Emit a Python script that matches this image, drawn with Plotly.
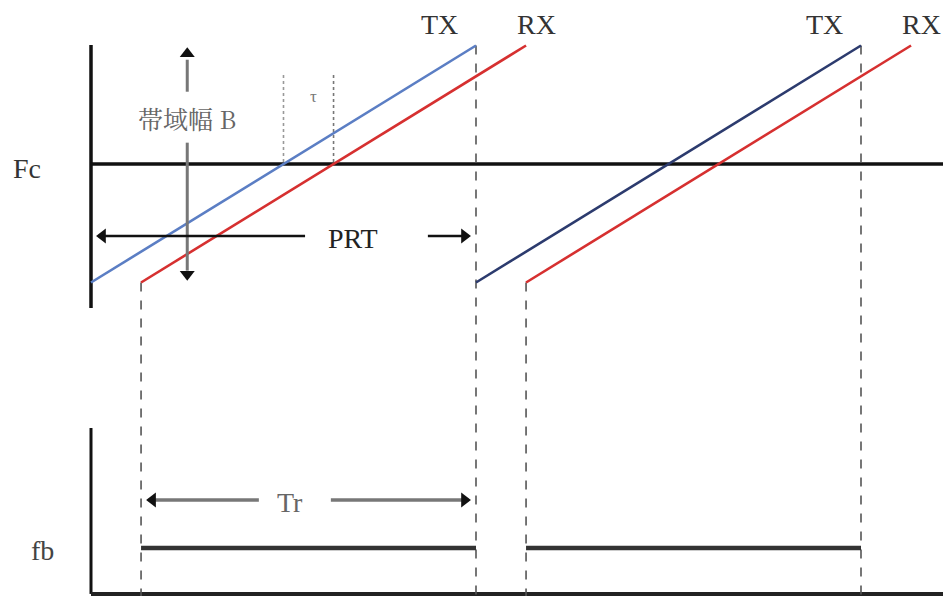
import plotly.graph_objects as go

# ---- data (diagram units: time in PRT units, frequency in bandwidth units around Fc) ----
tx_starts = [0.0, 1.0]          # chirp start times
chirp_length = 1.0              # PRT
tau = 0.13                      # round-trip delay
f_low, f_high = -0.5, 0.5       # Fc - B/2 .. Fc + B/2
tx_colors = ["#5b7ec4", "#2c3b6e"]
rx_color = "#d63030"
labels_tx = ["TX", "TX"]
labels_rx = ["RX", "RX"]
fb_level = -1.62

X0, X1 = -91 / 385, 852 / 385
Y0, Y1 = -432 / 237, 164 / 237
BOT = -1.814

fig = go.Figure()

def line(xs, ys, color, width, dash=None):
    fig.add_trace(go.Scatter(x=xs, y=ys, mode="lines",
                             line=dict(color=color, width=width, dash=dash),
                             hoverinfo="skip", showlegend=False))

# axes
line([0, 0], [0.502, -0.608], "#111", 3.5)
line([0, X1 + 0.1], [0, 0], "#111", 3.5)
line([0, 0], [-1.114, BOT], "#111", 3)
line([0, X1 + 0.1], [BOT, BOT], "#222", 4)

# dashed vertical guides
for i, s in enumerate(tx_starts):
    e = s + chirp_length
    line([e, e], [f_high, Y0], "#555", 1.6, "dash")
    line([s + tau, s + tau], [f_low, Y0], "#555", 1.6, "dash")

# tau dotted lines
t_mid = tx_starts[0] + chirp_length / 2
line([t_mid, t_mid], [0.376, 0], "#999", 1.6, "dot")
line([t_mid + tau, t_mid + tau], [0.376, 0], "#777", 1.6, "dot")

# chirps
for i, s in enumerate(tx_starts):
    line([s, s + chirp_length], [f_low, f_high], tx_colors[i], 2.6)
    line([s + tau, s + tau + chirp_length], [f_low, f_high], rx_color, 2.6)

# beat frequency segments
for s in tx_starts:
    line([s + tau, s + chirp_length], [fb_level, fb_level], "#333", 4.5)

# arrows (shafts)
tb = 0.25
line([tb, tb], [f_high - 0.06, 0.305], "#777", 3)
line([tb, tb], [0.09, f_low + 0.05], "#777", 3)
prt_y = -0.304
line([0.02, 0.556], [prt_y, prt_y], "#111", 2.5)
line([0.875, chirp_length - 0.02], [prt_y, prt_y], "#111", 2.5)
tr_y = -1.418
line([tau + 0.02, 0.436], [tr_y, tr_y], "#777", 3.5)
line([0.623, chirp_length - 0.02], [tr_y, tr_y], "#777", 3.5)

# arrowheads
heads = [
    (tb, f_high - 0.035, "triangle-up"),
    (tb, f_low + 0.035, "triangle-down"),
    (0.03, prt_y, "triangle-left"),
    (chirp_length - 0.03, prt_y, "triangle-right"),
    (tau + 0.03, tr_y, "triangle-left"),
    (chirp_length - 0.03, tr_y, "triangle-right"),
]
fig.add_trace(go.Scatter(x=[h[0] for h in heads], y=[h[1] for h in heads], mode="markers",
                         marker=dict(symbol=[h[2] for h in heads], size=13, color="#111"),
                         hoverinfo="skip", showlegend=False))

serif = "Liberation Serif, Times New Roman, serif"
def text(x, y, s, size=28, color="#333", family=serif, xanchor="center"):
    fig.add_annotation(x=x, y=y, text=s, showarrow=False, xanchor=xanchor,
                       font=dict(family=family, size=size, color=color))

text(-0.166, -0.017, "Fc")
text(-0.125, -1.629, "fb", color="#444")
for i, s in enumerate(tx_starts):
    text(s + chirp_length - 0.094, 0.59, labels_tx[i])
    if i == len(tx_starts) - 1:
        text(X1, 0.59, labels_rx[i], xanchor="right")
    else:
        text(s + chirp_length + 0.158, 0.59, labels_rx[i])
text(0.681, -0.316, "PRT", color="#222")
text(tb, 0.194, "帯域幅 B", size=25, color="#666",
     family="Noto Serif CJK JP, Noto Sans CJK JP, serif")
text(t_mid + tau / 2 + 0.012, 0.283, "τ", size=17, color="#777")
text(0.517, -1.43, "Tr", color="#666")

fig.update_layout(
    width=943, height=596, margin=dict(l=0, r=0, t=0, b=0),
    paper_bgcolor="white", plot_bgcolor="white",
    xaxis=dict(range=[X0, X1], visible=False, fixedrange=True),
    yaxis=dict(range=[Y0, Y1], visible=False, fixedrange=True),
    hovermode=False,
)
fig.write_html("out.html", config={"displayModeBar": False, "staticPlot": True},
               post_script="document.body.style.margin='0';document.body.style.overflow='hidden';")
